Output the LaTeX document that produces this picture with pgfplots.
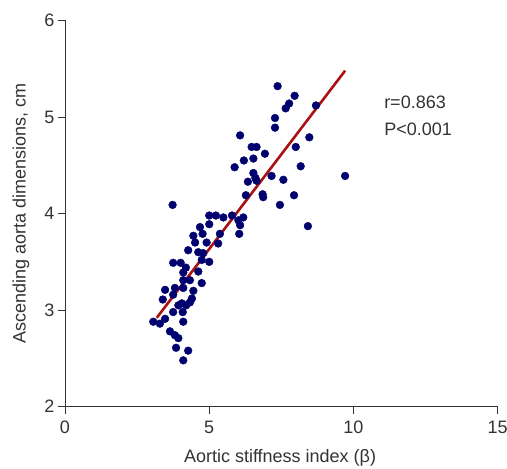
\documentclass[border=0pt]{standalone}
\usepackage{pgfplots}
\usepackage{pgfplotstable}
\usepackage{fontspec}
\setmainfont{Liberation Sans}
\pgfplotsset{compat=1.18}
\usetikzlibrary{calc}

\definecolor{dotblue}{RGB}{0,0,110}
\definecolor{fitred}{RGB}{170,18,18}
\definecolor{axgray}{RGB}{51,51,51}

% beta index vs ascending aorta size (cm)
\pgfplotstableread{
x y
7.37 5.32
7.96 5.22
7.77 5.14
7.65 5.09
8.70 5.12
7.28 4.99
7.28 4.89
8.47 4.79
6.93 4.62
8.00 4.69
8.17 4.49
7.16 4.39
7.57 4.35
9.71 4.39
6.07 4.81
6.47 4.69
6.64 4.69
6.20 4.55
6.53 4.57
5.88 4.48
6.53 4.42
6.34 4.33
6.60 4.37
6.64 4.34
6.27 4.19
6.85 4.20
6.87 4.17
7.94 4.19
7.45 4.09
5.49 3.96
5.79 3.98
6.18 3.96
6.01 3.93
6.07 3.88
8.42 3.87
3.73 4.09
5.00 3.98
5.23 3.98
4.68 3.86
5.00 3.89
6.04 3.79
5.37 3.79
4.45 3.77
4.77 3.79
4.51 3.70
4.91 3.70
5.31 3.69
4.27 3.62
4.62 3.60
4.79 3.59
4.74 3.52
5.00 3.50
3.75 3.49
4.01 3.49
4.10 3.39
4.62 3.40
4.10 3.31
4.74 3.28
3.47 3.21
3.81 3.23
4.10 3.23
4.45 3.20
3.75 3.16
3.39 3.11
4.05 3.07
4.33 3.08
3.93 3.05
3.75 2.98
4.08 2.98
3.06 2.88
3.29 2.86
3.47 2.91
4.10 2.88
3.64 2.78
3.81 2.74
3.93 2.71
3.85 2.61
4.27 2.58
4.10 2.48
4.33 3.31
4.19 3.44
4.20 3.05
4.40 3.12
}\pts

\begin{document}
\begin{tikzpicture}
\begin{axis}[
    name=ax,
    scale only axis,
    width=432.75pt, height=386.2pt,
    xmin=0, xmax=15, ymin=2, ymax=6,
    xtick={0,5,10,15}, ytick={2,3,4,5,6},
    axis lines*=left,
    axis line style={axgray, line width=0.8pt},
    tick align=outside,
    major tick length=7pt,
    tick style={axgray, line width=0.8pt},
    /pgf/number format/assume math mode=true,
    font=\fontsize{18}{21.6}\selectfont,
    ticklabel style={text=axgray},
    xticklabel style={yshift=-4pt},
    label style={text=axgray},
    xlabel={Aortic stiffness index (\symbol{"03B2})},
    ylabel={Ascending aorta dimensions, cm},
    xlabel style={at={(axis description cs:0.497,-0.1328)}, anchor=center},
    ylabel style={at={(axis description cs:-0.1017,0.5)}, anchor=center},
    clip=false,
]
\addplot[only marks, mark=*, mark size=3.9pt, dotblue] table[x=x, y=y] {\pts};
\addplot[fitred, line width=2.6pt] coordinates {(3.18,2.92) (9.71,5.48)};
\node[anchor=west, text=axgray, inner sep=0pt] at (axis cs:11.06,5.15) {r=0.863};
\node[anchor=west, text=axgray, inner sep=0pt] at (axis cs:11.06,4.87) {P<0.001};
\end{axis}
\pgfresetboundingbox
\path[use as bounding box] ($(ax.south west)+(-65pt,-62.3pt)$) rectangle ($(ax.north east)+(9.3pt,20.5pt)$);
\end{tikzpicture}
\end{document}
